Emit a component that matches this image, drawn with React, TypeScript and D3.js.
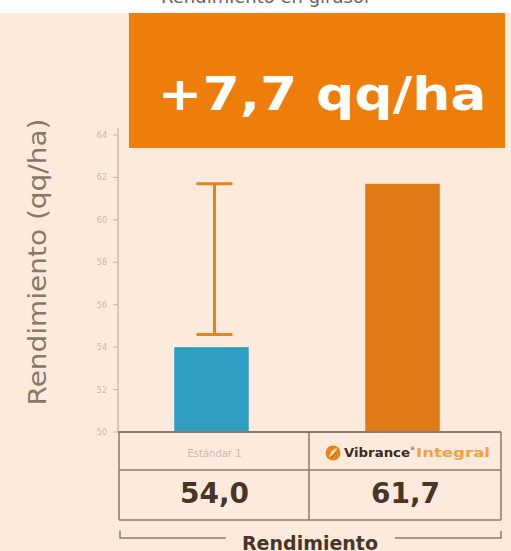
import React from 'react';
import * as d3 from 'd3';

const categories = ['Estándar 1', 'Vibrance Integral'];
const values = [54.0, 61.7];
const valueLabels = ['54,0', '61,7'];
// error bar drawn over the first bar
const errLow = 54.6;
const errHigh = 61.7;
const yTicks = [50, 52, 54, 56, 58, 60, 62, 64];
const headline = '+7,7 qq/ha';
const yTitle = 'Rendimiento (qq/ha)';
const footer = 'Rendimiento';

const W = 511;
const H = 551;
const BG = '#fcebdd';
const BROWN = '#4a3426';
const LINE = '#8f7a6a';

const App: React.FC = () => {
  const y = d3.scaleLinear().domain([50, 64]).range([432, 135]);
  const x = d3.scaleBand<string>().domain(categories).range([119, 501]).padding(0);
  const barW = x.bandwidth() * 0.39;
  const colors = ['#2e9fc3', '#e07a17'];
  const tableTop = 432;
  const rowMid = 470;
  const tableBottom = 520;
  const c0 = x(categories[0])! + x.bandwidth() / 2;
  const c1 = x(categories[1])! + x.bandwidth() / 2;

  return (
    <svg
      width={W}
      height={H}
      style={{ position: 'absolute', left: 0, top: 0 }}
      fontFamily="DejaVu Sans, sans-serif"
    >
      <rect x={0} y={0} width={W} height={H} fill={BG} />
      <rect x={0} y={0} width={W} height={13} fill="#ffffff" />
      <text x={265} y={3} textAnchor="middle" fontSize={18} fill="#6b625c">
        Rendimiento en girasol
      </text>

      {/* headline box */}
      <rect x={129} y={13} width={376} height={135} fill="#ee7d0a" />
      <text
        x={322}
        y={110}
        textAnchor="middle"
        fontSize={46}
        fontWeight="bold"
        fill="#ffffff"
        textLength={329}
        lengthAdjust="spacingAndGlyphs"
      >
        {headline}
      </text>

      {/* y title */}
      <text
        transform={`translate(46,262) rotate(-90)`}
        textAnchor="middle"
        fontSize={24}
        fill="#8c7665"
        textLength={287}
        lengthAdjust="spacingAndGlyphs"
      >
        {yTitle}
      </text>

      {/* y axis */}
      <line x1={118} x2={118} y1={128} y2={tableTop} stroke="#b9a393" strokeWidth={1} />
      {yTicks.map((t) => (
        <g key={t}>
          <line x1={113} x2={118} y1={y(t)} y2={y(t)} stroke="#c6b2a2" strokeWidth={1} />
          <text x={107} y={y(t) + 3} textAnchor="end" fontSize={8} fill="#cbb6a6">
            {t}
          </text>
        </g>
      ))}

      {/* bars */}
      {categories.map((c, i) => {
        const cx = x(c)! + x.bandwidth() / 2 - 3;
        return (
          <rect
            key={c}
            x={cx - barW / 2}
            y={y(values[i])}
            width={barW}
            height={y(50) - y(values[i])}
            fill={colors[i]}
          />
        );
      })}

      {/* error bar */}
      <g stroke="#e8811f" strokeWidth={3}>
        <line x1={c0} x2={c0} y1={y(errHigh)} y2={y(errLow)} />
        <line x1={c0 - 18} x2={c0 + 18} y1={y(errHigh)} y2={y(errHigh)} />
        <line x1={c0 - 18} x2={c0 + 18} y1={y(errLow)} y2={y(errLow)} />
      </g>

      {/* table */}
      <g stroke={LINE} fill="none">
        <line x1={118} x2={501} y1={tableTop} y2={tableTop} strokeWidth={2} />
        <line x1={119} x2={119} y1={tableTop} y2={tableBottom} strokeWidth={1.5} />
        <line x1={501} x2={501} y1={tableTop} y2={tableBottom} strokeWidth={1.5} />
        <line x1={309} x2={309} y1={tableTop} y2={tableBottom} strokeWidth={1.5} />
        <line x1={119} x2={501} y1={rowMid} y2={rowMid} strokeWidth={1.5} />
        <line x1={119} x2={501} y1={tableBottom} y2={tableBottom} strokeWidth={1.5} />
      </g>
      <text x={c0} y={457} textAnchor="middle" fontSize={10} fill="#cdb7a7">
        {categories[0]}
      </text>

      {/* Vibrance Integral logo */}
      <g>
        <circle cx={333} cy={453} r={7.5} fill="#e8841c" />
        <path d="M329,457 Q331,449 337,448 Q336,455 329,457 Z" fill="#fbd9a8" />
        <path d="M331,458 L336,452" stroke="#a8520c" strokeWidth={1} />
        <text
          x={344}
          y={457}
          fontSize={12}
          fontWeight="bold"
          fill="#3b2a20"
          textLength={66}
          lengthAdjust="spacingAndGlyphs"
        >
          Vibrance
        </text>
        <text x={410} y={450} fontSize={5} fill="#3b2a20">
          ®
        </text>
        <text
          x={416}
          y={457}
          fontSize={12}
          fontWeight="bold"
          fill="#f2a23c"
          textLength={74}
          lengthAdjust="spacingAndGlyphs"
        >
          Integral
        </text>
      </g>

      {valueLabels.map((v, i) => (
        <text
          key={v}
          x={i === 0 ? c0 : c1}
          y={503}
          textAnchor="middle"
          fontSize={28}
          fontWeight="bold"
          fill={BROWN}
        >
          {v}
        </text>
      ))}

      {/* bracket */}
      <g stroke="#8f7a6a" strokeWidth={1.5} fill="none">
        <path d="M120,531 L120,538 L226,538" />
        <path d="M395,538 L501,538 L501,531" />
      </g>
      <text x={310} y={550} textAnchor="middle" fontSize={19} fontWeight="bold" fill={BROWN}>
        {footer}
      </text>
    </svg>
  );
};

export default App;
